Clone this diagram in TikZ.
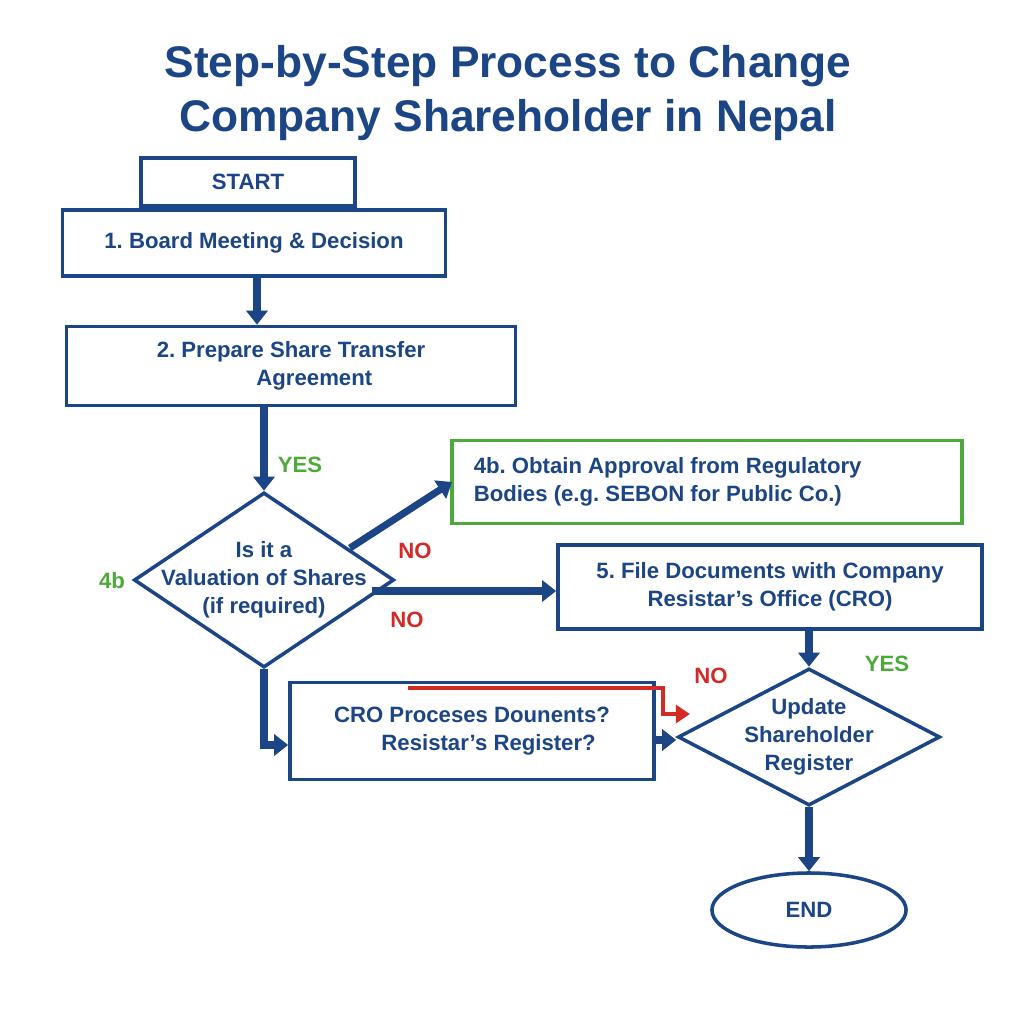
\documentclass[tikz,border=0pt]{standalone}
\usepackage{fontspec}
\setmainfont{Liberation Sans}
\frenchspacing
\usetikzlibrary{shapes.geometric,arrows.meta}
\definecolor{navy}{HTML}{1B4585}
\definecolor{okgreen}{HTML}{4DAA3A}
\definecolor{nored}{HTML}{D42A26}
\begin{document}
\begin{tikzpicture}[x=0.01cm,y=-0.01cm,
  box/.style={draw=navy, line width=1pt, inner sep=0pt, text=navy, font=\fontsize{6.3}{8}\selectfont\bfseries, align=center},
  diam/.style={diamond, draw=navy, line width=1pt, inner sep=0pt},
  arr/.style={draw=navy, line width=2pt, -{Triangle[length=4pt,width=6pt]}},
  yes/.style={text=okgreen, font=\fontsize{6.3}{8}\selectfont\bfseries},
  no/.style={text=nored, font=\fontsize{6.3}{8}\selectfont\bfseries}]
\useasboundingbox (0,0) rectangle (1024,1024);
\fill[white] (0,0) rectangle (1024,1024);
% title
\node[text=navy, font=\fontsize{12.6}{15.5}\selectfont\bfseries, align=center] (title) at (508,93)
  {Step-by-Step Process to Change\\Company Shareholder in Nepal};
% boxes
\node[box, minimum width=2.14cm, minimum height=0.48cm] (start) at (248,182) {START};
\node[box, minimum width=3.83cm, minimum height=0.66cm] (meet) at (254,243) {1. Board Meeting \& Decision};
\node[box, minimum width=4.49cm, minimum height=0.79cm] (prep) at (291,366) {};
\node[box, draw=none, align=left] at (prep) {2. Prepare Share Transfer\\\hspace{4.5em}Agreement};
\node[box, draw=okgreen, minimum width=5.10cm, minimum height=0.83cm] (regul) at (707,482) {};
\node[box, draw=none, align=left, anchor=west] at (472,482)
  {4b. Obtain Approval from Regulatory\\Bodies (e.g. SEBON for Public Co.)};
\node[box, minimum width=4.24cm, minimum height=0.84cm] (file) at (770,587)
  {5. File Documents with Company\\Resistar's Office (CRO)};
\node[box, minimum width=3.64cm, minimum height=0.97cm] (cro) at (472,731)
  {CRO Proceses Dounents?\\\hspace{1.5em}Resistar's Register?};
% decisions
\node[diam, minimum width=2.60cm, minimum height=1.75cm] (valu) at (264,580) {};
\node[box, draw=none] at (valu) {Is it a\\Valuation of Shares\\(if required)};
\node[diam, minimum width=2.62cm, minimum height=1.37cm] (upd) at (809,737) {};
\node[box, draw=none] at (upd) {Update\\Shareholder\\Register};
\node[ellipse, draw=navy, line width=1pt, minimum width=1.94cm, minimum height=0.74cm,
  text=navy, font=\fontsize{6.3}{8}\selectfont\bfseries] (end) at (809,910) {END};
% connectors
\coordinate (dnw) at (350,548);
\coordinate (dex) at (372,591);
\coordinate (dcorner) at (264,745);
\draw[arr] (meet.south -| 257,0) -- (prep.north -| 257,0);
\draw[arr] (prep.south -| valu.north) -- (valu.north);
\draw[arr] (dnw) -- (452,482);
\draw[arr] (dex) -- (dex -| file.west);
\draw[arr] (valu.south) -- (dcorner) -- (cro.west |- dcorner);
\draw[arr] (cro.east |- 0,740) -- (upd.west |- 0,740);
\draw[arr] (file.south -| upd.north) -- (upd.north);
\draw[arr] (upd.south) -- (end.north);
\draw[nored, line width=1pt, -{Triangle[length=4pt,width=5pt]}] (408,688) -- (663,688) -- (663,714) -- (690,714);
% labels
\node[yes] (y1) at (300,465) {YES};
\node[yes] (l4b) at (112,581) {4b};
\node[no] (n1) at (415,551) {NO};
\node[no] (n2) at (407,620) {NO};
\node[no] (n3) at (711,676) {NO};
\node[yes] (y2) at (887,664) {YES};
\end{tikzpicture}
\end{document}
